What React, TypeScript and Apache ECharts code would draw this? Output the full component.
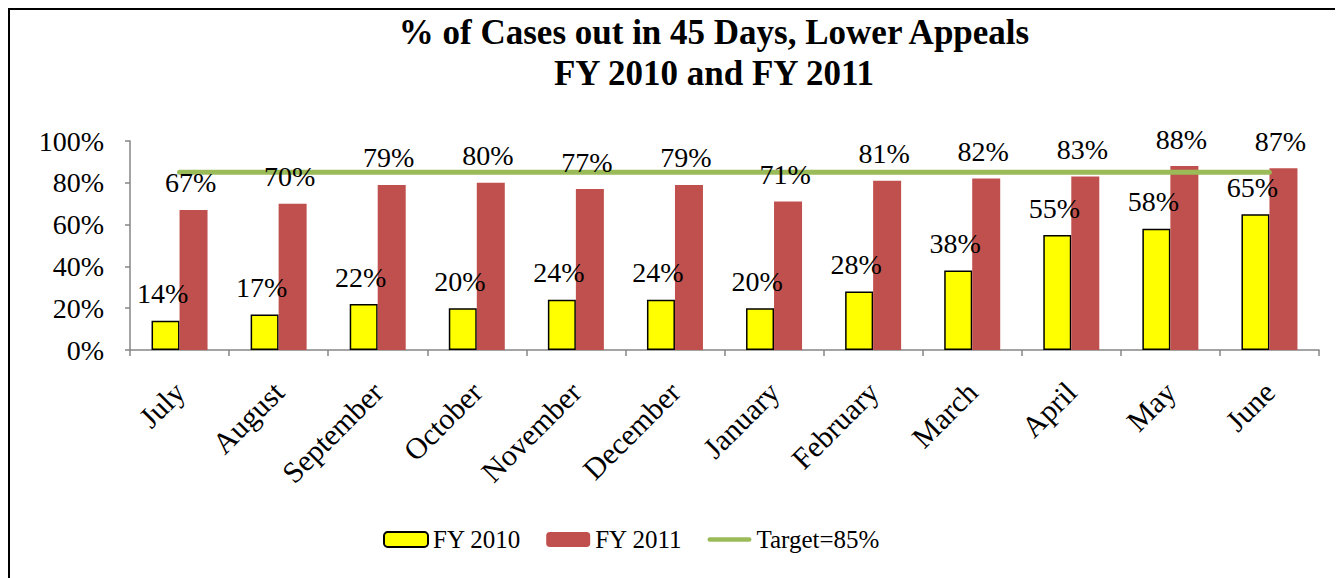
import React, { useEffect, useRef } from "react";
import * as echarts from "echarts";

const months = ["July", "August", "September", "October", "November", "December", "January", "February", "March", "April", "May", "June"];
const fy2010 = [14, 17, 22, 20, 24, 24, 20, 28, 38, 55, 58, 65];
const fy2011 = [67, 70, 79, 80, 77, 79, 71, 81, 82, 83, 88, 87];
const target = [85, 85, 85, 85, 85, 85, 85, 85, 85, 85, 85, 85];
const titleLines = ["% of Cases out in 45 Days, Lower Appeals", "FY 2010 and FY 2011"];

const SERIF = "Liberation Serif";

export default function App() {
  const ref = useRef<HTMLDivElement>(null);
  useEffect(() => {
    if (!ref.current) return;
    const chart = echarts.init(ref.current, null, { renderer: "svg" });
    const labelStyle = {
      show: true,
      position: "top" as const,
      distance: 13,
      offset: [-3, 0],
      formatter: "{c}%",
      fontFamily: SERIF,
      fontSize: 28,
      color: "#000",
    };
    const axisLineStyle = { color: "#868686", width: 1.5 };
    chart.setOption({
      animation: false,
      backgroundColor: "#fff",
      graphic: [
        {
          type: "text",
          x: 704,
          y: 5,
          style: {
            text: titleLines[0],
            fontFamily: SERIF,
            fontSize: 35,
            fontWeight: "bold",
            textAlign: "center",
            fill: "#000",
          },
        },
        {
          type: "text",
          x: 704,
          y: 46,
          style: {
            text: titleLines[1],
            fontFamily: SERIF,
            fontSize: 35,
            fontWeight: "bold",
            textAlign: "center",
            fill: "#000",
          },
        },
      ],
      grid: { left: 120, top: 131, width: 1189, height: 209, containLabel: false },
      legend: {
        left: 368,
        top: 512,
        itemWidth: 44,
        itemHeight: 15,
        itemGap: 25,
        textStyle: { fontFamily: SERIF, fontSize: 25, color: "#000" },
        data: [
          { name: "FY 2010" },
          { name: "FY 2011" },
          { name: "Target=85%", icon: "path://M2.5,0 H45.5 A2.5,2.5 0 0 1 45.5,5 H2.5 A2.5,2.5 0 0 1 2.5,0 Z" },
        ],
      },
      xAxis: [
        {
          type: "category",
          data: months,
          axisLine: { lineStyle: axisLineStyle },
          axisTick: { show: true, length: 6, alignWithLabel: false, lineStyle: axisLineStyle },
          axisLabel: {
            rotate: 45,
            margin: 37,
            fontFamily: SERIF,
            fontSize: 30,
            color: "#000",
            interval: 0,
          },
        },
        {
          type: "category",
          data: months,
          position: "bottom",
          show: false,
        },
      ],
      yAxis: {
        type: "value",
        min: 0,
        max: 100,
        interval: 20,
        splitLine: { show: false },
        axisLine: { show: true, lineStyle: axisLineStyle },
        axisTick: { show: true, length: 5, lineStyle: axisLineStyle },
        axisLabel: {
          formatter: "{value}%",
          margin: 26,
          fontFamily: SERIF,
          fontSize: 28,
          color: "#000",
        },
      },
      series: [
        {
          name: "FY 2010",
          type: "bar",
          data: fy2010,
          barWidth: 28,
          barGap: "0%",
          itemStyle: { color: "#FFFF00", borderColor: "#000", borderWidth: 1.5 },
          z: 2,
        },
        {
          name: "FY 2011",
          type: "bar",
          data: fy2011,
          barWidth: 28,
          barGap: "0%",
          itemStyle: { color: "#C0504D" },
          z: 2,
        },
        {
          name: "Target=85%",
          type: "line",
          data: target,
          symbol: "none",
          lineStyle: { color: "#9BBB59", width: 5, cap: "round" },
          itemStyle: { color: "#9BBB59" },
          z: 5,
        },
        {
          name: "FY 2010 labels",
          type: "bar",
          xAxisIndex: 1,
          data: fy2010,
          barWidth: 28,
          barGap: "0%",
          itemStyle: { color: "rgba(0,0,0,0)" },
          label: labelStyle,
          silent: true,
          z: 10,
        },
        {
          name: "FY 2011 labels",
          type: "bar",
          xAxisIndex: 1,
          data: fy2011,
          barWidth: 28,
          barGap: "0%",
          itemStyle: { color: "rgba(0,0,0,0)" },
          label: labelStyle,
          silent: true,
          z: 10,
        },
      ],
    });
    return () => chart.dispose();
  }, []);
  return (
    <div
      style={{
        borderLeft: "2px solid #000",
        borderTop: "2px solid #000",
        width: 1333,
        height: 570,
        background: "#fff",
      }}
    >
      <div ref={ref} style={{ width: 1333, height: 570 }} />
    </div>
  );
}
